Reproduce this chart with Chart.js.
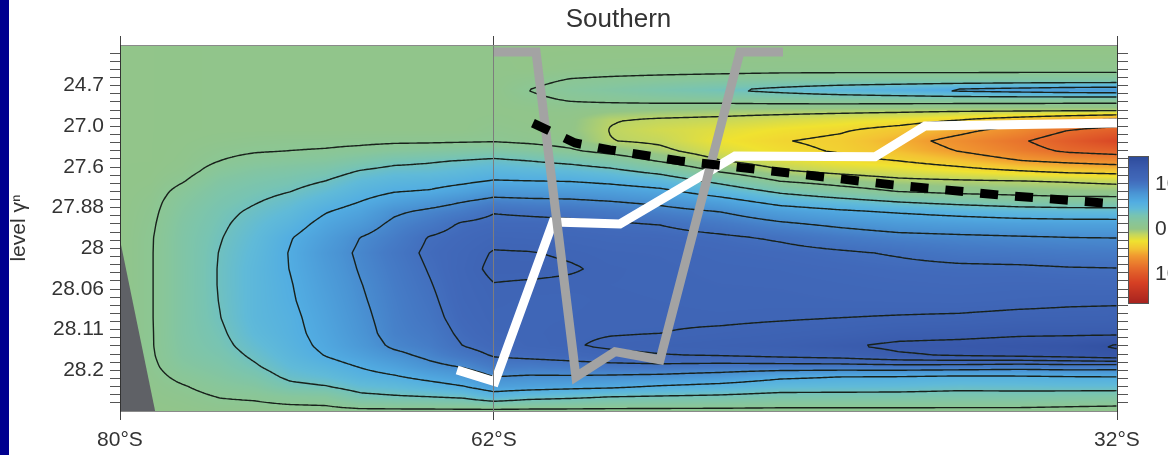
<!DOCTYPE html>
<html>
<head>
<meta charset="utf-8">
<script src="https://cdn.jsdelivr.net/npm/chart.js@4.4.1/dist/chart.umd.min.js"></script>
<style>
  html, body { margin: 0; padding: 0; background: #ffffff; }
  #wrap { width: 1168px; height: 455px; position: relative; }
</style>
</head>
<body>
<div id="wrap"><canvas id="c" width="1168" height="455"></canvas></div>
<script>
// ---- section axes ----
const lats = [-80, -78.5, -77, -75.2, -73.5, -71.8, -70.1, -68.4, -66.8, -65.1, -63.5, -62,
              -60.3, -58.3, -56.4, -54, -51.1, -48.2, -45.3, -42.5, -39.6, -36.7, -34.3, -32];
// vertical position on the neutral-density level axis (0 = top, 9 = bottom)
const levelIdx = [0, 0.59, 0.86, 1.11, 1.35, 1.6, 1.84, 2.09, 2.36, 2.6, 2.85, 3.1, 3.34, 3.61, 3.86,
                  4.1, 4.4, 4.74, 5.11, 5.5, 5.9, 6.29, 6.71, 7.1, 7.4, 7.64, 7.91, 8.16, 8.4, 8.65, 9];

// ---- overturning field, one row per level, one value per latitude ----
const field = [
  [0.2,0.2,0.25,0.3,0.3,0.3,0.3,0.3,0.3,0.3,0.3,0.3, 0,0,0,0,0,0,0,0,0,0,0,0],
  [0.2,0.2,0.25,0.3,0.3,0.3,0.3,0.3,0.3,0.3,0.3,0.3, 0.15,0.3,0.35,0.4,0.45,0.5,0.5,0.5,0.5,0.5,0.5,0.5],
  [0.2,0.2,0.25,0.3,0.3,0.3,0.3,0.3,0.3,0.3,0.3,0.3, 0.6,1.1,1.3,1.5,1.7,1.9,2.0,2.0,2.0,2.1,2.1,2.1],
  [0.2,0.2,0.25,0.3,0.3,0.3,0.3,0.3,0.3,0.3,0.3,0.3, 1.02,1.6,2.0,2.6,3.3,4.1,4.9,5.6,6.5,7.0,7.4,7.6],
  [0.2,0.2,0.25,0.3,0.3,0.3,0.3,0.3,0.3,0.3,0.3,0.3, 0.7,1.1,1.3,1.5,1.6,1.8,1.9,1.9,1.9,1.9,1.8,1.8],
  [0.2,0.2,0.25,0.3,0.3,0.3,0.3,0.3,0.3,0.3,0.3,0.3, 0.35,0.4,0.2,0.0,-0.2,-0.3,-0.4,-0.5,-0.6,-0.6,-0.6,-0.6],
  [0.2,0.2,0.25,0.3,0.3,0.3,0.3,0.3,0.3,0.3,0.3,0.4, 0.3,0.15,-0.9,-1.2,-1.4,-1.8,-2.2,-2.6,-3.5,-4.6,-5.6,-6.5],
  [0.2,0.2,0.25,0.3,0.3,0.3,0.3,0.3,0.3,0.3,0.3,0.6, 0.4,0.1,-1.05,-1.7,-2.2,-2.8,-3.3,-4.2,-5.4,-6.9,-8.5,-9.5],
  [0.2,0.2,0.3,0.45,0.6,0.7,0.7,0.75,0.8,0.8,0.85,0.9, 0.7,0.4,-0.95,-1.3,-2.6,-3.4,-3.9,-5.2,-6.7,-8.2,-9.8,-11.5],
  [0.2,0.2,0.35,0.7,0.9,1.0,1.1,1.3,1.6,1.8,2.0,2.2, 1.8,1.2,0.4,-0.6,-2.0,-3.0,-3.7,-4.7,-6.1,-7.6,-8.9,-9.4],
  [0.2,0.2,0.4,1.0,1.4,1.6,1.8,2.4,3.0,3.3,3.6,3.9, 3.5,3.0,2.3,0.85,-0.9,-2.0,-2.9,-3.5,-4.5,-5.9,-6.5,-7.0],
  [0.2,0.25,0.55,1.5,2.0,2.3,2.7,3.6,4.1,4.2,4.6,5.0, 4.75,4.5,4.0,2.9,0.8,-0.8,-1.5,-2.0,-2.7,-3.4,-4.0,-4.3],
  [0.2,0.3,0.9,2.0,2.5,2.9,3.5,4.5,5.0,5.2,5.6,6.1, 6.0,5.9,5.5,4.75,2.9,0.9,0.1,-0.6,-0.8,-1.0,-1.2,-1.5],
  [0.2,0.45,1.4,2.4,3.0,3.5,4.3,5.3,5.95,6.2,6.9,7.7, 7.6,7.5,7.2,6.6,5.0,3.2,2.0,1.0,0.6,0.4,0.2,0.1],
  [0.2,0.6,1.7,2.7,3.4,4.1,5.1,6.05,7.0,7.7,8.5,9.2, 9.0,8.9,8.6,8.1,7.0,5.3,4.4,3.5,2.8,2.2,2.0,2.0],
  [0.2,0.7,1.9,3.0,3.8,4.6,5.9,6.8,8.2,8.9,9.5,10.4, 10.2,10.0,9.7,9.2,8.5,7.2,6.4,5.8,5.3,4.8,4.6,4.5],
  [0.2,0.8,2.1,3.2,4.2,5.2,6.6,7.6,8.9,9.7,10.7,11.0, 11.0,10.9,10.7,10.45,9.7,8.8,8.1,7.5,7.2,7.0,6.9,6.9],
  [0.2,0.9,2.2,3.4,4.5,5.9,7.2,8.55,9.4,10.6,11.1,11.6, 11.5,11.4,11.2,11.1,10.8,10.3,9.6,9.1,8.9,8.7,8.55,8.5],
  [0.2,0.92,2.2,3.55,4.7,6.1,7.6,8.8,9.8,10.8,11.4,12.1, 12.05,11.85,11.6,11.5,11.2,11.0,10.7,10.35,9.9,9.75,9.6,9.5],
  [0.2,0.92,2.2,3.6,4.85,6.05,7.4,8.65,9.6,10.6,11.5,12.3, 12.3,12.1,11.8,11.65,11.4,11.3,11.1,10.9,10.8,10.75,10.6,10.55],
  [0.2,0.92,2.2,3.6,4.85,5.9,7.2,8.45,9.45,10.4,11.4,11.95, 11.85,11.8,11.75,11.7,11.55,11.5,11.35,11.2,11.1,11.2,11.15,11.1],
  [0.2,0.92,2.2,3.55,4.85,5.8,7.0,8.3,9.3,10.2,11.3,11.8, 11.7,11.7,11.8,11.75,11.65,11.65,11.55,11.5,11.45,11.6,11.75,11.8],
  [0.2,0.92,2.2,3.45,4.85,5.6,6.8,8.1,9.2,10.0,11.1,11.7, 11.7,11.75,11.85,11.85,11.8,11.9,12.0,12.1,12.2,12.4,12.45,12.5],
  [0.2,0.9,2.2,3.2,4.6,5.5,6.6,7.9,9.1,9.7,10.8,11.5, 11.7,11.85,11.95,12.0,12.2,12.4,12.6,13.0,13.1,13.3,13.3,13.3],
  [0.2,0.9,2.1,3.0,4.2,5.3,6.4,7.6,8.8,9.4,10.5,11.1, 11.6,11.9,12.2,12.4,12.6,12.8,13.35,13.8,13.95,14.2,14.5,15.2],
  [0.2,0.85,2.0,2.7,3.8,5.0,6.05,7.0,8.0,8.9,9.8,10.6, 10.9,11.2,11.6,11.9,12.05,12.3,12.6,13.3,13.6,13.8,14.0,14.5],
  [0.2,0.75,1.7,2.3,3.3,4.5,5.2,6.1,6.9,8.0,8.6,9.6, 9.5,9.7,9.9,10.0,9.8,9.8,9.8,9.9,9.8,9.5,9.7,9.6],
  [0.2,0.6,1.3,1.9,2.6,3.9,4.4,5.3,5.8,6.6,7.3,8.5, 8.3,8.3,8.2,8.0,7.5,6.4,6.0,5.9,5.6,5.7,5.9,6.0],
  [0.2,0.45,0.9,1.5,1.9,3.0,3.4,4.3,4.6,5.2,5.9,7.1, 6.9,6.6,6.4,5.8,5.3,4.6,4.5,4.4,4.1,4.2,4.3,4.3],
  [0.2,0.35,0.6,1.05,1.2,1.6,1.8,3.0,3.3,3.5,3.8,4.9, 4.2,3.9,3.5,3.3,3.1,2.7,2.7,2.7,2.6,2.6,2.4,2.3],
  [0.2,0.2,0.3,0.5,0.5,0.5,0.5,0.6,0.6,0.6,0.6,0.5, 0.5,0.5,0.5,0.5,0.5,0.5,0.5,0.5,0.5,0.5,0.4,0.3]
];

const contourLevels = [-8.5, -6, -3.5, -1, 1, 3.5, 6, 8.5, 10.5, 12, 13.5, 15];

// ---- axis labels ----
const gammaLabels = ['24.7', '27.0', '27.6', '27.88', '28', '28.06', '28.11', '28.2'];
const latTicks = [-80, -62, -32];
const latLabels = ['80°S', '62°S', '32°S'];
const barTicks = [10, 0, -10];
const barLabels = ['10', '0', '10'];
const barRange = [-16.5, 16];

// ---- overlaid lines (latitude, level) ----
const whiteLine = [
  {x: -63.77, y: 7.99}, {x: -61.95, y: 8.28}, {x: -59.15, y: 4.35}, {x: -55.93, y: 4.40},
  {x: -50.39, y: 2.73}, {x: -43.65, y: 2.75}, {x: -41.24, y: 1.99}, {x: -32.0, y: 1.92}
];
const greyLine = [
  {x: -62.0, y: 0.17}, {x: -59.97, y: 0.17}, {x: -58.05, y: 8.16}, {x: -56.17, y: 7.54},
  {x: -54.0, y: 7.74}, {x: -50.15, y: 0.17}, {x: -48.08, y: 0.17}
];
const dashedLine = [
  {x: -60.12, y: 1.92}, {x: -58.09, y: 2.41}, {x: -56.41, y: 2.58}, {x: -53.04, y: 2.85},
  {x: -47.89, y: 3.14}, {x: -42.78, y: 3.44}, {x: -37.63, y: 3.69}, {x: -32.0, y: 3.91}
];
const shelf = [{x: -80, y: 4.79}, {x: -78.31, y: 9}];

// ---- colour scale ----
const cmapStops = [
  [-16.5, '#a82420'], [-12, '#d64024'], [-9.5, '#e2602a'], [-8, '#e9772d'], [-6, '#f19a30'],
  [-4.5, '#f3c233'], [-2.7, '#f0e230'], [-1.2, '#c2d660'], [0, '#93c587'], [1.5, '#88c69a'],
  [3, '#78c4b2'], [4.5, '#60bad8'], [6, '#52ade2'], [8, '#4a94d4'], [9.5, '#457bc6'],
  [11, '#4169ba'], [12.5, '#3d62b3'], [14, '#3858aa'], [16, '#2e4c9c']
];
function hexRgb(h) { return [parseInt(h.slice(1,3),16), parseInt(h.slice(3,5),16), parseInt(h.slice(5,7),16)]; }
const stopRgb = cmapStops.map(s => [s[0], hexRgb(s[1])]);
function colorFor(v) {
  if (v <= stopRgb[0][0]) return stopRgb[0][1];
  for (let k = 0; k < stopRgb.length - 1; k++) {
    const a = stopRgb[k], b = stopRgb[k + 1];
    if (v <= b[0]) {
      const t = (v - a[0]) / (b[0] - a[0]);
      return [a[1][0] + (b[1][0] - a[1][0]) * t, a[1][1] + (b[1][1] - a[1][1]) * t, a[1][2] + (b[1][2] - a[1][2]) * t];
    }
  }
  return stopRgb[stopRgb.length - 1][1];
}

function locate(arr, v) {
  let i = 0;
  while (i < arr.length - 2 && v > arr[i + 1]) i++;
  let t = (v - arr[i]) / (arr[i + 1] - arr[i]);
  if (t < 0) t = 0; if (t > 1) t = 1;
  return [i, t];
}
function fieldAt(lat, lv) {
  const [i, tx] = locate(lats, lat);
  const [j, ty] = locate(levelIdx, lv);
  const a = field[j][i], b = field[j][i + 1], c = field[j + 1][i], d = field[j + 1][i + 1];
  return a * (1 - tx) * (1 - ty) + b * tx * (1 - ty) + c * (1 - tx) * ty + d * tx * ty;
}

// shaded field plus contour lines, drawn under the datasets
const fieldPlugin = {
  id: 'fieldPlugin',
  beforeDatasetsDraw(chart) {
    const {ctx, chartArea: area, scales: {x, y}} = chart;
    const L = Math.round(area.left), T = Math.round(area.top);
    const R = Math.round(area.right), B = Math.round(area.bottom);
    const w = R - L, h = B - T;
    const img = ctx.createImageData(w, h);
    const colLat = [], rowLv = [];
    for (let i = 0; i < w; i++) colLat.push(x.getValueForPixel(L + i + 0.5));
    for (let j = 0; j < h; j++) rowLv.push(y.getValueForPixel(T + j + 0.5));
    for (let j = 0; j < h; j++) {
      for (let i = 0; i < w; i++) {
        const c = colorFor(fieldAt(colLat[i], rowLv[j]));
        const p = (j * w + i) * 4;
        img.data[p] = c[0]; img.data[p + 1] = c[1]; img.data[p + 2] = c[2]; img.data[p + 3] = 255;
      }
    }
    ctx.putImageData(img, L, T);

    // contours by marching squares on a 2 px sample grid
    const step = 2;
    const nx = Math.floor(w / step) + 1, ny = Math.floor(h / step) + 1;
    const g = new Float64Array(nx * ny);
    for (let j = 0; j < ny; j++) {
      const lv = y.getValueForPixel(T + Math.min(j * step, h));
      for (let i = 0; i < nx; i++) {
        g[j * nx + i] = fieldAt(x.getValueForPixel(L + Math.min(i * step, w)), lv);
      }
    }
    ctx.save();
    ctx.beginPath(); ctx.rect(L, T, w, h); ctx.clip();
    ctx.strokeStyle = '#18211b';
    ctx.lineWidth = 1.4;
    ctx.lineCap = 'round';
    for (const lev of contourLevels) {
      ctx.beginPath();
      for (let j = 0; j < ny - 1; j++) {
        for (let i = 0; i < nx - 1; i++) {
          const v0 = g[j * nx + i], v1 = g[j * nx + i + 1];
          const v2 = g[(j + 1) * nx + i + 1], v3 = g[(j + 1) * nx + i];
          const idx = (v0 > lev ? 8 : 0) | (v1 > lev ? 4 : 0) | (v2 > lev ? 2 : 0) | (v3 > lev ? 1 : 0);
          if (idx === 0 || idx === 15) continue;
          const x0 = L + i * step, y0 = T + j * step;
          const top = () => [x0 + step * (lev - v0) / (v1 - v0), y0];
          const right = () => [x0 + step, y0 + step * (lev - v1) / (v2 - v1)];
          const bottom = () => [x0 + step * (lev - v3) / (v2 - v3), y0 + step];
          const left = () => [x0, y0 + step * (lev - v0) / (v3 - v0)];
          const seg = (p, q) => { ctx.moveTo(p[0], p[1]); ctx.lineTo(q[0], q[1]); };
          const mid = (v0 + v1 + v2 + v3) / 4;
          switch (idx) {
            case 1: case 14: seg(left(), bottom()); break;
            case 2: case 13: seg(bottom(), right()); break;
            case 3: case 12: seg(left(), right()); break;
            case 4: case 11: seg(top(), right()); break;
            case 6: case 9: seg(top(), bottom()); break;
            case 7: case 8: seg(left(), top()); break;
            case 5:
              if (mid > lev) { seg(left(), top()); seg(bottom(), right()); }
              else { seg(top(), right()); seg(left(), bottom()); }
              break;
            case 10:
              if (mid > lev) { seg(top(), right()); seg(left(), bottom()); }
              else { seg(left(), top()); seg(bottom(), right()); }
              break;
          }
        }
      }
      ctx.stroke();
    }
    ctx.restore();
  }
};

// side strip, colour bar and its labels
const framePlugin = {
  id: 'framePlugin',
  beforeDraw(chart) {
    const ctx = chart.ctx;
    ctx.save();
    ctx.fillStyle = '#ffffff';
    ctx.fillRect(0, 0, chart.width, chart.height);
    ctx.restore();
  },
  afterDraw(chart) {
    const ctx = chart.ctx;
    ctx.save();
    ctx.fillStyle = '#00008f';
    ctx.fillRect(0, 0, 9, chart.height);

    const bx = 1129, bw = 19, bTop = 157, bBot = 303;
    const span = barRange[1] - barRange[0];
    for (let yy = bTop; yy < bBot; yy++) {
      const v = barRange[1] - (yy + 0.5 - bTop) / (bBot - bTop) * span;
      const c = colorFor(v);
      ctx.fillStyle = `rgb(${c[0] | 0},${c[1] | 0},${c[2] | 0})`;
      ctx.fillRect(bx, yy, bw, 1);
    }
    ctx.strokeStyle = '#555555';
    ctx.lineWidth = 1;
    ctx.strokeRect(bx - 0.5, bTop - 0.5, bw + 1, bBot - bTop + 1);
    ctx.fillStyle = '#333333';
    ctx.font = '21px "Liberation Sans", Arial, sans-serif';
    ctx.textBaseline = 'middle';
    ctx.textAlign = 'left';
    barTicks.forEach((t, k) => {
      const yy = bTop + (barRange[1] - t) / span * (bBot - bTop);
      ctx.fillText(barLabels[k], 1155, yy);
    });
    ctx.restore();
  }
};

const FONT = '"Liberation Sans", Arial, Helvetica, sans-serif';
const levelTicks = [];
for (let k = 1; k < 45; k++) levelTicks.push(k / 5);

new Chart(document.getElementById('c'), {
  type: 'scatter',
  data: {
    datasets: [
      { label: 'dashed', data: dashedLine, showLine: true, pointRadius: 0, borderColor: '#000000',
        borderWidth: 9, borderDash: [18, 17], borderCapStyle: 'butt', tension: 0, clip: 0, order: 0 },
      { label: 'grey', data: greyLine, showLine: true, pointRadius: 0, borderColor: '#a3a3a3',
        borderWidth: 9, borderJoinStyle: 'miter', tension: 0, clip: 0, order: 1 },
      { label: 'white', data: whiteLine, showLine: true, pointRadius: 0, borderColor: '#ffffff',
        borderWidth: 9, borderJoinStyle: 'miter', tension: 0, clip: 0, order: 2 },
      { label: 'shelf', data: shelf, showLine: true, pointRadius: 0, borderWidth: 0,
        borderColor: 'rgba(0,0,0,0)', backgroundColor: '#5f6166', fill: {value: 9}, tension: 0, clip: 0, order: 3 }
    ]
  },
  options: {
    responsive: false,
    animation: false,
    devicePixelRatio: 1,
    layout: { padding: 0 },
    plugins: {
      legend: { display: false },
      tooltip: { enabled: false },
      title: {
        display: true, text: 'Southern', color: '#333333', fullSize: false,
        font: { family: FONT, size: 26, weight: 'normal', lineHeight: 1.2 },
        padding: { top: 4, bottom: 0 }
      }
    },
    scales: {
      x: {
        type: 'linear', position: 'bottom', min: -80, max: -32,
        afterBuildTicks: s => { s.ticks = latTicks.map(v => ({ value: v })); },
        afterFit: s => { s.height = 44; },
        ticks: {
          autoSkip: false, maxRotation: 0, padding: 8, color: '#333333',
          font: { family: FONT, size: 21 },
          callback: v => latLabels[latTicks.indexOf(v)]
        },
        grid: {
          z: 1, drawOnChartArea: true, tickLength: 9, tickColor: '#444444', lineWidth: 1,
          color: c => (c.tick && c.tick.value === -62) ? '#7d7d7d' : 'rgba(0,0,0,0)'
        },
        border: { display: true, color: '#8a8a8a', z: 1 }
      },
      x2: {
        type: 'linear', position: 'top', min: -80, max: -32,
        afterBuildTicks: s => { s.ticks = latTicks.map(v => ({ value: v })); },
        afterFit: s => { s.height = 9.8; },
        ticks: { display: false },
        grid: { drawOnChartArea: false, tickLength: 9, tickColor: '#444444' },
        border: { display: true, color: '#8a8a8a', z: 1 }
      },
      y: {
        type: 'linear', position: 'left', min: 0, max: 9, reverse: true,
        afterBuildTicks: s => { s.ticks = levelTicks.map(v => ({ value: v })); },
        afterFit: s => { s.width = 120; },
        ticks: {
          autoSkip: false, padding: 6, color: '#333333',
          font: { family: FONT, size: 21 },
          callback: v => {
            const r = Math.round(v);
            return (Math.abs(v - r) < 1e-6 && r >= 1 && r <= 8) ? gammaLabels[r - 1] : '';
          }
        },
        grid: { drawOnChartArea: false, tickLength: 10, tickColor: '#555555' },
        border: { display: true, color: '#333333', z: 1 },
        title: {
          display: true, text: 'level γⁿ', color: '#333333',
          font: { family: FONT, size: 21 }, padding: { top: 7, bottom: 0 }
        }
      },
      y2: {
        type: 'linear', position: 'right', min: 0, max: 9, reverse: true,
        afterBuildTicks: s => { s.ticks = levelTicks.map(v => ({ value: v })); },
        afterFit: s => { s.width = 51; },
        ticks: { display: false },
        grid: { drawOnChartArea: false, tickLength: 11, tickColor: '#555555' },
        border: { display: true, color: '#333333', z: 1 }
      }
    }
  },
  plugins: [fieldPlugin, framePlugin]
});
</script>
</body>
</html>
